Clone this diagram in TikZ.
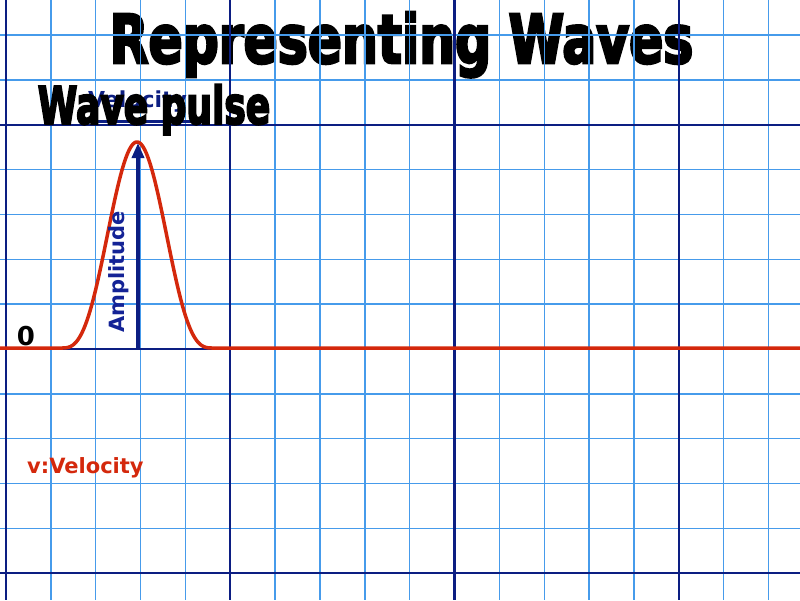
\documentclass[tikz,border=0pt]{standalone}
\usepackage{fontspec}
\usepackage{graphicx}
\setmainfont{DejaVu Sans}
\newfontfamily\titlefont{DejaVu Sans Condensed Bold}[FakeBold=4]
\usetikzlibrary{arrows.meta}
\definecolor{navy}{RGB}{12,30,130}
\definecolor{gridblue}{RGB}{70,155,235}
\definecolor{wavered}{RGB}{212,40,12}
\definecolor{labelblue}{RGB}{20,35,150}
\begin{document}
\begin{tikzpicture}[x=1pt,y=-1pt,
  minorline/.style={gridblue,line width=1.4pt},
  majorline/.style={navy,line width=2.4pt},
  labeltext/.style={font=\fontsize{21}{25}\selectfont\bfseries, inner sep=0pt},
  bigtitle/.style={font=\fontsize{56}{60}\titlefont, inner sep=0pt, anchor=base},
  subtitle/.style={font=\fontsize{40}{44}\titlefont, inner sep=0pt, anchor=base},
  wave/.style={wavered,line width=3.5pt},
  amparrow/.style={navy,line width=3.5pt,-{Triangle[length=15pt,width=12pt]}}]
\useasboundingbox (0,0) rectangle (800,600);
\fill[white] (0,0) rectangle (800,600);
% main title (under the grid)
\node[bigtitle] (title) at (401.5,63) {\scalebox{1}[1.2]{Representing Waves}};
% grid
\foreach \k in {0,...,17}
  \draw[minorline] ({6+44.85*\k},0) -- ({6+44.85*\k},600);
\foreach \j in {-7,...,5}
  \draw[minorline] (0,{349+44.85*\j}) -- (800,{349+44.85*\j});
\foreach \k in {0,5,10,15}
  \draw[majorline] ({6+44.85*\k},0) -- ({6+44.85*\k},600);
\foreach \j in {-5,0,5}
  \draw[majorline] (0,{349+44.85*\j}) -- (800,{349+44.85*\j});
% velocity label (mostly hidden)
\node[labeltext, font=\fontsize{22}{26}\selectfont\bfseries, navy, anchor=base west] (vel) at (88,107) {Velocity};
\coordinate (velstart) at (88,121);
\coordinate (velend) at (193,121);
\draw[navy,line width=3pt] (velstart) -- (velend);
% wave
\draw[wave] (0,348) -- (61.2,348)
  -- plot[domain=61.2:212.8, samples=160, smooth]
     (\x, {348-206*(0.5+0.5*cos(180*(\x-137)/76))*sqrt(0.5+0.5*cos(180*(\x-137)/76))})
  -- (800,348);
% amplitude arrow
\coordinate (base) at (138,348);
\coordinate (peak) at (138,143);
\draw[amparrow] (base) -- (peak);
\node[labeltext, labelblue, rotate=90] (amp) at (119,272) {Amplitude};
% zero
\node[font=\fontsize{26}{30}\selectfont\bfseries, inner sep=0pt, anchor=base] (zero) at (26,345) {0};
% v:Velocity
\node[labeltext, wavered, anchor=base west] (vlabel) at (27,473) {v:Velocity};
% subtitle
\node[subtitle] (sub) at (154,124) {\scalebox{1}[1.3]{Wave pulse}};
\end{tikzpicture}
\end{document}
